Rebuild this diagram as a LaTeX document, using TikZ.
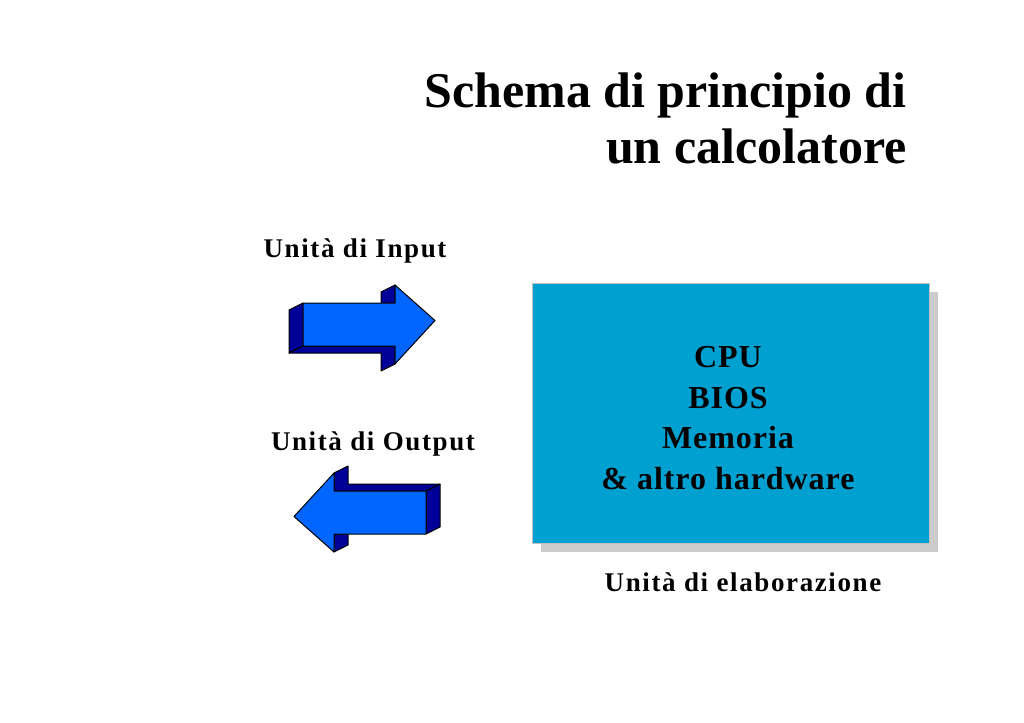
\documentclass[tikz,border=0pt]{standalone}
\usepackage{fontspec}
\setmainfont{Liberation Serif}
\usetikzlibrary{shadows}

\definecolor{arrowfront}{RGB}{0,102,255}
\definecolor{arrowside}{RGB}{0,0,153}
\definecolor{elabfill}{RGB}{0,160,208}
\definecolor{elabshadow}{RGB}{204,204,204}
\definecolor{elabline}{RGB}{192,192,192}

\tikzset{
  pics/fatarrow/.style={code={
    \path[arrowside3d] (0,-21.5) -- (0,21.5) -- (-14,28.5) -- (-14,-14.5) -- cycle;
    \path[arrowside3d] (0,21.5) -- (92,21.5) -- (92,39.5) -- (78,46.5) -- (78,28.5) -- (-14,28.5) -- cycle;
    \path[arrowside3d] (92,-39.5) -- (92,-21.5) -- (78,-21.5) -- (78,-32.5) -- cycle;
    \path[arrowfront3d] (0,-21.5) -- (92,-21.5) -- (92,-39.5) -- (132,-4) -- (92,39.5) -- (92,21.5) -- (0,21.5) -- cycle;
  }}
}

\begin{document}
\begin{tikzpicture}[
x=0.5pt, y=-0.5pt,
every node/.style={font=\bfseries, inner sep=0pt},
arrowside3d/.style={fill=arrowside, draw=black, line width=0.5pt, line join=round},
arrowfront3d/.style={fill=arrowfront, draw=black, line width=0.5pt, line join=round},
titletext/.style={font=\bfseries\fontsize{25}{28}\selectfont},
unitlabel/.style={font=\bfseries\fontsize{13.5}{16}\selectfont\addfontfeatures{LetterSpace=6}, anchor=base},
elabtext/.style={font=\bfseries\fontsize{16}{20.3}\selectfont\addfontfeatures{LetterSpace=3}, align=center}
]

\useasboundingbox (0,0) rectangle (1024,723);

\node[titletext, anchor=north east, align=right] (title) at (907,72) {Schema di principio di\\un calcolatore};

\node[unitlabel] (input) at (355,257) {Unità di Input};
\node[unitlabel] (output) at (373,450) {Unità di Output};

\pic (inarrow) at (303,324.5) {fatarrow};
\pic[rotate=180] (outarrow) at (426,512.5) {fatarrow};

\node[draw=elabline, line width=0.5pt, fill=elabfill, minimum width=198.5pt, minimum height=130pt,
  drop shadow={shadow xshift=4.5pt, shadow yshift=-4.5pt, fill=elabshadow, opacity=1}] (elab) at (730.5,413) {};
\node[elabtext] (elabtxt) at (728,418) {CPU\\BIOS\\Memoria\\\& altro hardware};

\node[unitlabel] (elablabel) at (743,591) {Unità di elaborazione};

\end{tikzpicture}
\end{document}
